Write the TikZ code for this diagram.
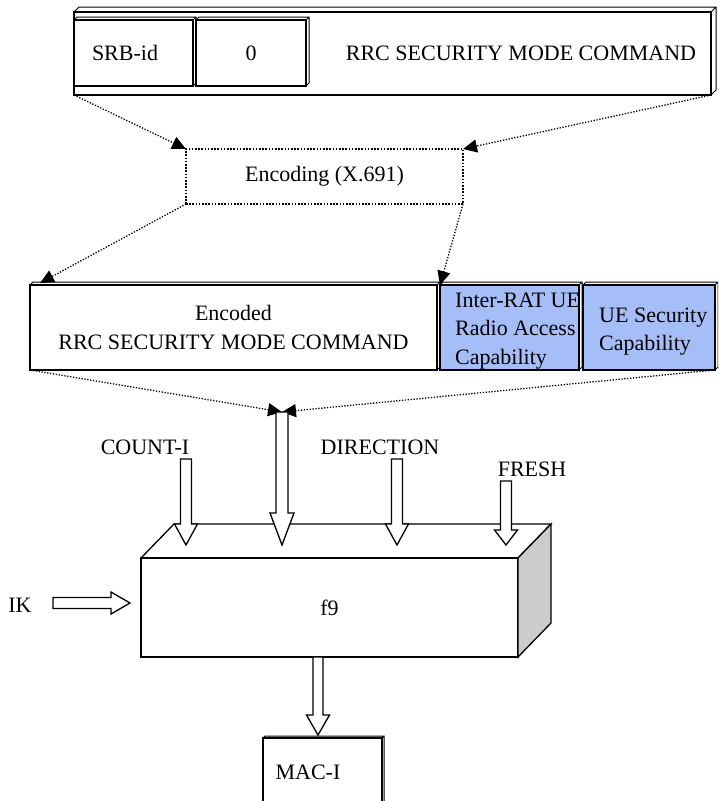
\documentclass[tikz,border=0pt]{standalone}
\usepackage{fontspec}
\setmainfont{Liberation Serif}
\usetikzlibrary{calc,arrows.meta}

\definecolor{capblue}{RGB}{166,190,247}

\tikzset{
	box/.style={draw,line width=1.3pt,inner sep=0pt,outer sep=0pt,font=\fontsize{22}{28.5}\selectfont},
	txt/.style={inner sep=0pt,font=\fontsize{22}{28.5}\selectfont},
	dotline/.style={line width=1.3pt,dash pattern=on 1.3pt off 1.6pt,-{Triangle[length=14pt,width=13pt]}},
	blk/.style={draw,fill=white,line width=1.3pt,line join=miter}
}

% thin depth edges on a box node
\newcommand\slab[2]{%
	\draw[line width=1pt] (#1.north west) -- ++(#2,-#2) -| ($(#1.south east)+(#2,-#2)$) -- (#1.south east)
	(#1.north east) -- ++(#2,-#2);}

% hollow block arrows: from, tip, half shaft, half head, head length
\newcommand\blkdown[5]{%
	\draw[blk] ($(#1)+(-#3,0)$) -- ($(#2)+(-#3,-#5)$) -- ($(#2)+(-#4,-#5)$) -- (#2)
	-- ($(#2)+(#4,-#5)$) -- ($(#2)+(#3,-#5)$) -- ($(#1)+(#3,0)$) -- cycle;}
\newcommand\blkright[5]{%
	\draw[blk] ($(#1)+(0,-#3)$) -- ($(#2)+(-#5,-#3)$) -- ($(#2)+(-#5,-#4)$) -- (#2)
	-- ($(#2)+(-#5,#4)$) -- ($(#2)+(-#5,#3)$) -- ($(#1)+(0,#3)$) -- cycle;}

\begin{document}
\begin{tikzpicture}[x=1pt,y=-1pt]
	\clip (0,0) rectangle (718,801);
	
	% message
	\node[box,minimum width=637pt,minimum height=83pt] (cmd) at (392.5,53.5) {};
	\slab{cmd}{5}
	\node[box,minimum width=119pt,minimum height=66pt,text width=83pt,inner xsep=18pt,align=left] (srb) at (133.5,53) {SRB-id};
	\slab{srb}{3}
	\node[box,minimum width=110pt,minimum height=66pt] (zero) at (251,53) {0};
	\slab{zero}{3}
	\node[txt] (cmdText) at (521,53) {RRC SECURITY MODE COMMAND};
	
	\node[box,line width=1.6pt,dash pattern=on 1.6pt off 1.6pt,minimum width=277pt,minimum height=55pt] (enc) at (324.5,176.5) {Encoding (X.691)};
	
	% encoded message + capabilities
	\node[box,minimum width=407pt,minimum height=85pt,align=center] (encd) at (233.5,327.5) {Encoded\\RRC SECURITY MODE COMMAND};
	\slab{encd}{3}
	\node[box,fill=capblue,minimum width=139pt,minimum height=85pt] (irat) at (509.5,327.5) {};
	\node[txt,anchor=west,align=left] (iratText) at (455,331) {Inter-RAT UE\\Radio Access\\Capability};
	\slab{irat}{3}
	\node[box,fill=capblue,minimum width=132pt,minimum height=85pt] (ues) at (649,327.5) {};
	\slab{ues}{3}
	\node[txt,anchor=west,align=left] (uesText) at (599,331.5) {UE Security\\Capability};
	
	\coordinate (encdIn) at ($(encd.north west)+(10,-2)$);
	\draw[dotline] (cmd.south west) -- (enc.north west);
	\draw[dotline] (cmd.south east) -- (enc.north east);
	\draw[dotline] (enc.south west) -- (encdIn);
	\draw[dotline] (enc.south east) -- (irat.north west);
	
	\coordinate (bow) at (282,412);
	\draw[dotline] (encd.south west) -- (bow);
	\draw[dotline] (ues.south east) -- (bow);
	
	% f9
	\node[box,minimum width=377pt,minimum height=99pt] (f9) at (329.5,607.5) {f9};
	\draw[line width=1.3pt] (f9.north west) -- ++(33,-34) -- ++(377,0) -- (f9.north east);
	\filldraw[line width=1.3pt,fill=black!20] (f9.north east) -- ++(33,-34) -- ++(0,99) -- (f9.south east) -- cycle;
	
	\node[txt] (count) at (145,447) {COUNT-I};
	\node[txt] (dir) at (380,447) {DIRECTION};
	\node[txt] (fresh) at (532,469) {FRESH};
	\node[txt] (ik) at (20,605) {IK};
	
	\foreach \nm/\x/\y/\h in {count/186/459/21, dir/397/459/21, fresh/506/481/15}
	{
		\coordinate (\nm Top) at (\x,\y);
		\coordinate (\nm Tip) at (\x,545);
		\blkdown{\nm Top}{\nm Tip}{5.5}{11.5}{\h}
	};
	\coordinate (mainTip) at (282,545);
	\blkdown{bow}{mainTip}{6}{12}{32}
	
	\coordinate (ikTail) at (53,603);
	\coordinate (ikTip) at (130,603);
	\blkright{ikTail}{ikTip}{5.5}{11}{19}
	
	% output
	\node[box,minimum width=119pt,minimum height=70pt] (mac) at (322.5,773) {};
	\slab{mac}{2}
	\node[txt] (macText) at (308,772) {MAC-I};
	\coordinate (macTop) at (318,657);
	\coordinate (macTip) at (318,735);
	\blkdown{macTop}{macTip}{5}{11.5}{20}
	
\end{tikzpicture}
\end{document}
